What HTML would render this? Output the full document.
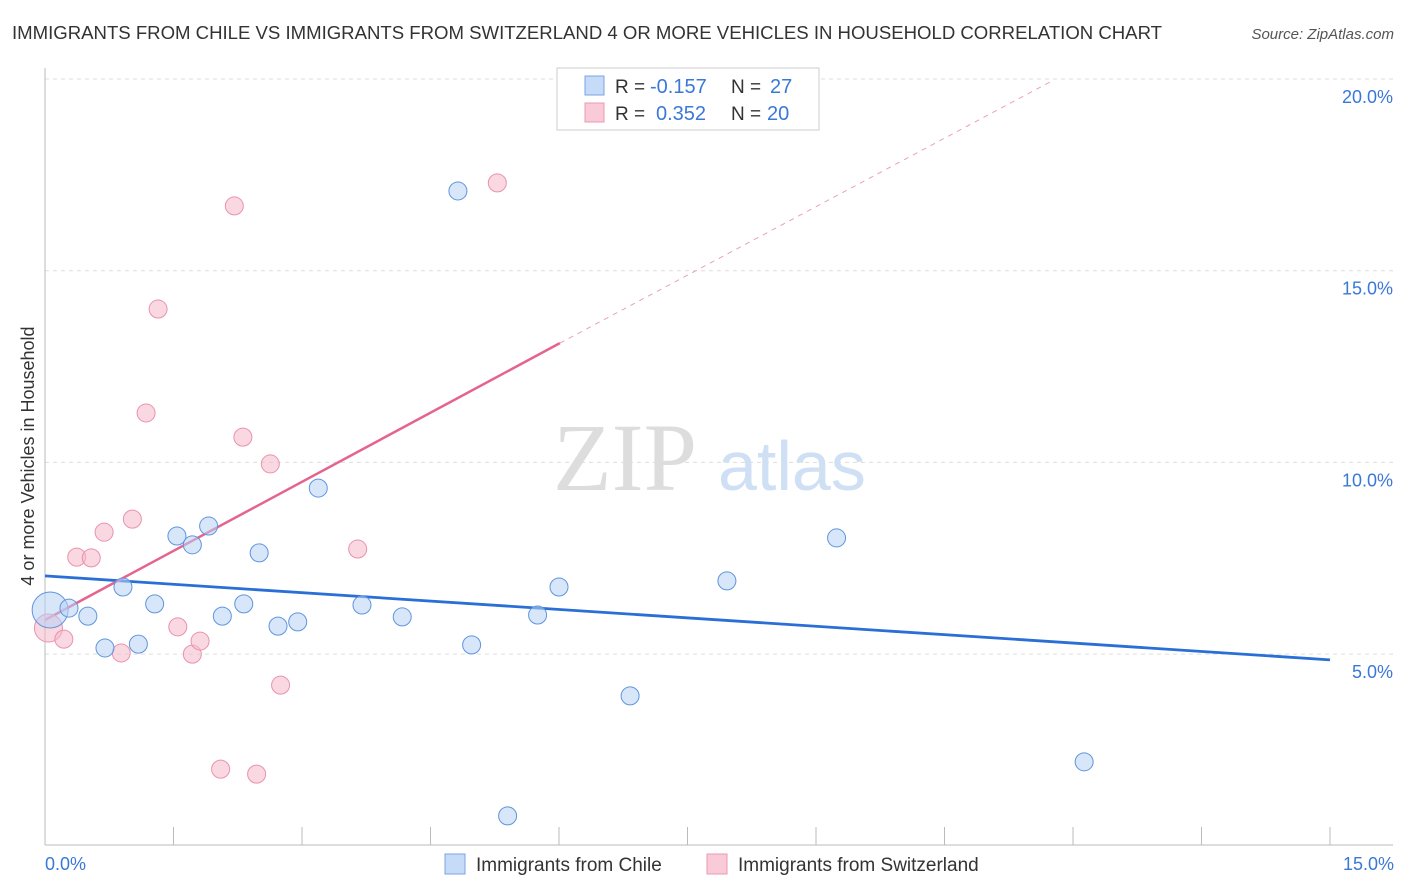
<!DOCTYPE html>
<html><head><meta charset="utf-8"><style>
body{margin:0;background:#fff;font-family:"Liberation Sans",sans-serif}
svg{display:block}
</style></head><body>
<svg width="1406" height="892" viewBox="0 0 1406 892">
<text x="12" y="39" font-size="18.6" fill="#333" textLength="1150">IMMIGRANTS FROM CHILE VS IMMIGRANTS FROM SWITZERLAND 4 OR MORE VEHICLES IN HOUSEHOLD CORRELATION CHART</text>
<text x="1394" y="39" font-size="15" fill="#555" font-style="italic" text-anchor="end">Source: ZipAtlas.com</text>
<g id="grid"></g>
<text x="553" y="490" font-size="96" fill="#ddd" font-family="Liberation Serif,serif">ZIP</text>
<text x="718" y="490" font-size="70" fill="#cfe0f5">atlas</text>
<line x1="45" y1="68" x2="45" y2="845" stroke="#bbb"/>
<line x1="45" y1="845" x2="1393" y2="845" stroke="#bbb"/>
<g id="ticks"></g>
<text x="34" y="456" font-size="18" fill="#333" text-anchor="middle" transform="rotate(-90 34 456)">4 or more Vehicles in Household</text>
<text x="45" y="870" font-size="18" fill="#3a78d8">0.0%</text>
<text x="1394" y="870" font-size="18" fill="#3a78d8" text-anchor="end">15.0%</text>
<g id="lines"></g>
<g id="points"></g>
<g>
<rect x="557" y="68" width="262" height="62" fill="#fff" stroke="#ccc"/>
<rect x="585" y="76" width="19" height="19" fill="#c5dbf7" stroke="#7aa6e0"/>
<rect x="585" y="103" width="19" height="19" fill="#f9cad8" stroke="#ec98b1"/>
<text x="615" y="93" font-size="19" fill="#333">R =</text>
<text x="650" y="93" font-size="20" fill="#3a78d8">-0.157</text>
<text x="731" y="93" font-size="19" fill="#333">N =</text>
<text x="770" y="93" font-size="20" fill="#3a78d8">27</text>
<text x="615" y="120" font-size="19" fill="#333">R =</text>
<text x="656" y="120" font-size="20" fill="#3a78d8">0.352</text>
<text x="731" y="120" font-size="19" fill="#333">N =</text>
<text x="767" y="120" font-size="20" fill="#3a78d8">20</text>
</g>
<g>
<rect x="445" y="854" width="20" height="20" fill="#c5dbf7" stroke="#7aa6e0"/>
<text x="476" y="871" font-size="19" fill="#333">Immigrants from Chile</text>
<rect x="707" y="854" width="20" height="20" fill="#f9cad8" stroke="#ec98b1"/>
<text x="738" y="871" font-size="19" fill="#333">Immigrants from Switzerland</text>
</g>
</svg>
<script>
const yTicks=[5,10,15,20];
const chileX=[0.06,0.28,0.50,0.70,0.91,1.09,1.28,1.54,1.72,1.91,2.07,2.32,2.50,2.72,2.95,3.19,3.70,4.17,4.82,4.98,5.40,5.75,6.00,6.83,7.96,9.24,12.13];
const chileY=[6.15,6.20,5.99,5.16,6.75,5.26,6.31,8.08,7.85,8.34,5.99,6.31,7.64,5.73,5.84,9.33,6.28,5.97,17.08,5.24,0.78,6.02,6.75,3.91,6.91,8.03,2.19];
const swissX=[0.04,0.22,0.37,0.54,0.69,0.89,1.02,1.18,1.32,1.55,1.72,1.81,2.05,2.21,2.31,2.47,2.63,2.75,3.65,5.28];
const swissY=[5.68,5.39,7.53,7.51,8.18,5.03,8.52,11.29,14.00,5.71,5.00,5.34,2.00,16.69,10.66,1.87,9.96,4.19,7.74,17.29];
const chileTrend=[[0,7.04],[15,4.85]];
const swissTrend=[[0,5.89],[6.01,13.11]];
const swissTrendExt=[[6.01,13.11],[11.73,19.92]];
const X=v=>45+v/15*1285;
const Y=v=>79+(20-v)/5*191.7;
const NS='http://www.w3.org/2000/svg';
function mk(tag,attrs,parent){const e=document.createElementNS(NS,tag);for(const k in attrs)e.setAttribute(k,attrs[k]);document.getElementById(parent).appendChild(e);return e;}
yTicks.forEach(t=>{
  const l=mk('line',{x1:45,x2:1393,y1:Y(t),y2:Y(t),stroke:'#ddd','stroke-dasharray':'4,4'},'grid');
  
  
  const tx=mk('text',{x:1393,y:Y(t)+24,'font-size':18,fill:'#3a78d8','text-anchor':'end'},'grid');
  tx.textContent=t.toFixed(1)+'%';
  
  
});
for(let i=1;i<=10;i++){
  const l=mk('line',{x1:X(i*1.5),x2:X(i*1.5),y1:827,y2:845,stroke:'#bbb'},'ticks');
  
  
}
function line(p,col,w,dash,name){
  const a={x1:X(p[0][0]),y1:Y(p[0][1]),x2:X(p[1][0]),y2:Y(p[1][1]),stroke:col,'stroke-width':w};
  if(dash)a['stroke-dasharray']=dash;
  const l=mk('line',a,'lines');
  
  
}
line(chileTrend,'#2a6fd6',2.8,null,'chile-trend-line');
line(swissTrend,'#e5648f',2.5,null,'switzerland-trend-line');
line(swissTrendExt,'#eaa0b8',1,'5,5','switzerland-trend-extension');
function pts(xs,ys,fill,stroke,name,big){
  xs.forEach((x,i)=>{
    const r=i===0?big:9;
    const c=mk('circle',{cx:X(x),cy:Y(ys[i]),r:r,fill:fill,'fill-opacity':0.55,stroke:stroke,'stroke-width':1},'points');
    
    
  });
}
pts(swissX,swissY,'#f6b8cb','#e992ae','switzerland-point',14);
pts(chileX,chileY,'#b8d2f4','#5f95de','chile-point',18);
</script>
</body></html>
